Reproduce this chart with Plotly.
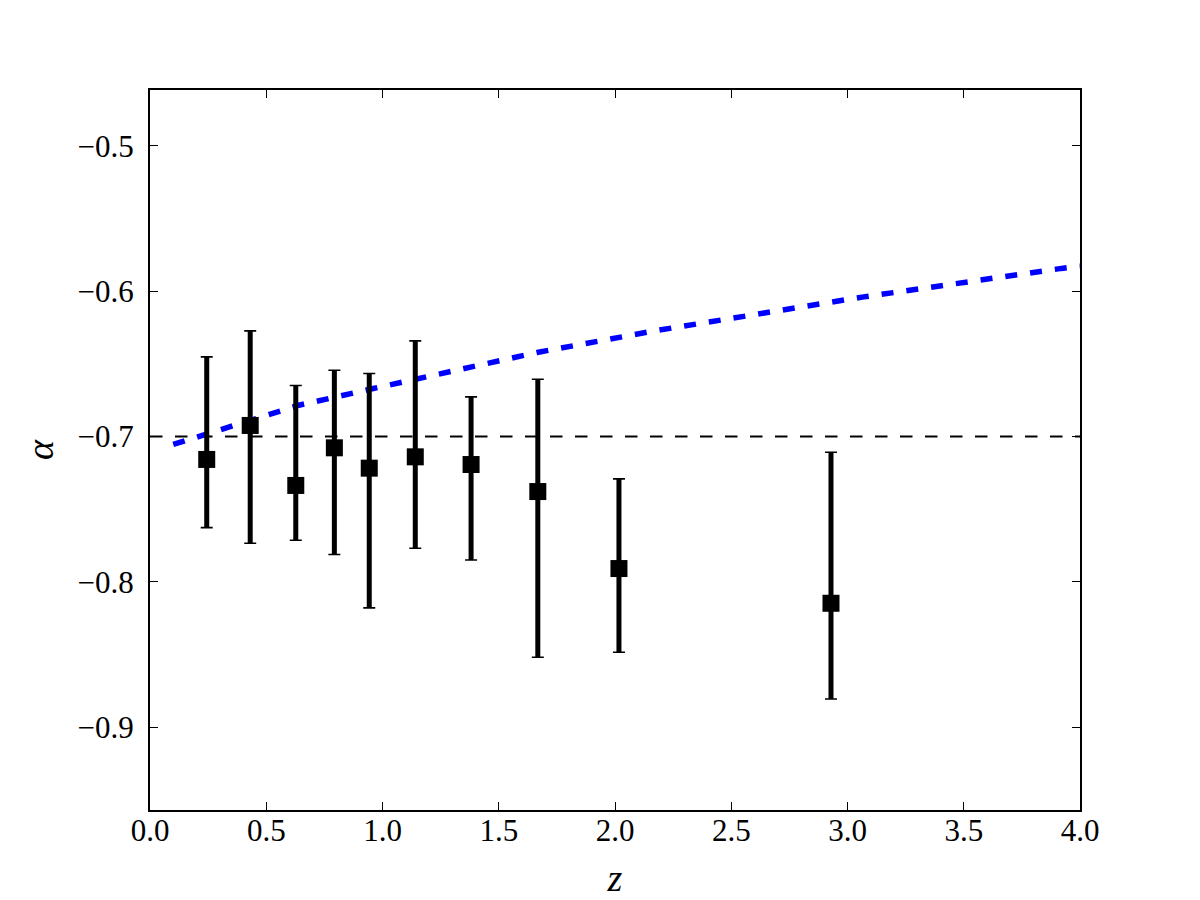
import plotly.graph_objects as go

z = [0.244, 0.431, 0.627, 0.793, 0.943, 1.141, 1.381, 1.668, 2.017, 2.929]
alpha = [-0.7158, -0.6924, -0.7337, -0.7078, -0.7218, -0.7140, -0.7193, -0.7379, -0.7909, -0.8148]
alpha_upper = [-0.6452, -0.6273, -0.6649, -0.6544, -0.6566, -0.6342, -0.6727, -0.6606, -0.7292, -0.7108]
alpha_lower = [-0.7627, -0.7735, -0.7714, -0.7812, -0.8180, -0.7769, -0.7850, -0.8520, -0.8485, -0.8807]

# Model curve (blue dashed)
model_z = [0.10, 0.33, 0.64, 0.96, 1.24, 1.67, 2.18, 3.07, 3.92, 4.00]
model_alpha = [-0.7055, -0.6938, -0.6785, -0.6670, -0.6568, -0.6420, -0.6270, -0.6039, -0.5843, -0.5828]

# Reference level
ref_z = [0.0, 4.0]
ref_alpha = [-0.7, -0.7]

x_ticks = [0.0, 0.5, 1.0, 1.5, 2.0, 2.5, 3.0, 3.5, 4.0]
y_ticks = [-0.9, -0.8, -0.7, -0.6, -0.5]

err_plus = [u - a for u, a in zip(alpha_upper, alpha)]
err_minus = [a - l for a, l in zip(alpha, alpha_lower)]

FONT = "Liberation Serif, DejaVu Serif, serif"

fig = go.Figure()

fig.add_trace(go.Scatter(
    x=ref_z, y=ref_alpha, mode="lines",
    line=dict(color="black", width=2, dash="12.5px,12.5px"),
    showlegend=False, hoverinfo="skip"))

fig.add_trace(go.Scatter(
    x=model_z, y=model_alpha, mode="lines",
    line=dict(color="#0000ff", width=5.5, dash="12px,13px"),
    showlegend=False))

# thin caps
fig.add_trace(go.Scatter(
    x=z, y=alpha, mode="markers",
    marker=dict(size=1, color="rgba(0,0,0,0)"),
    error_y=dict(type="data", symmetric=False, array=err_plus, arrayminus=err_minus,
                 color="black", thickness=1.6, width=6),
    showlegend=False, hoverinfo="skip"))

# thick bars + square markers
fig.add_trace(go.Scatter(
    x=z, y=alpha, mode="markers",
    marker=dict(symbol="square", size=17, color="black", line=dict(width=0)),
    error_y=dict(type="data", symmetric=False, array=err_plus, arrayminus=err_minus,
                 color="black", thickness=5, width=0),
    showlegend=False))

axis_common = dict(
    showline=True, linecolor="black", linewidth=2, mirror="allticks",
    ticks="inside", ticklen=8, tickwidth=1, tickcolor="black",
    showgrid=False, zeroline=False, automargin=False,
    tickfont=dict(family=FONT, size=31, color="black"),
)

fig.update_layout(
    width=1200, height=900,
    margin=dict(l=150, r=120, t=90, b=90),
    plot_bgcolor="white", paper_bgcolor="white",
    xaxis=dict(range=[0, 4], tickvals=x_ticks, tickformat=".1f",
               title=dict(text="<i>z</i>", font=dict(family=FONT, size=38, color="black"), standoff=17),
               ticklabelstandoff=-8,
               **axis_common),
    yaxis=dict(range=[-0.9571, -0.4615], tickvals=y_ticks, tickformat=".1f",
               title=dict(text="<i>α</i>", font=dict(family=FONT, size=38, color="black"), standoff=12),
               ticklabelstandoff=8,
               **axis_common),
)

fig.write_html("out.html")
